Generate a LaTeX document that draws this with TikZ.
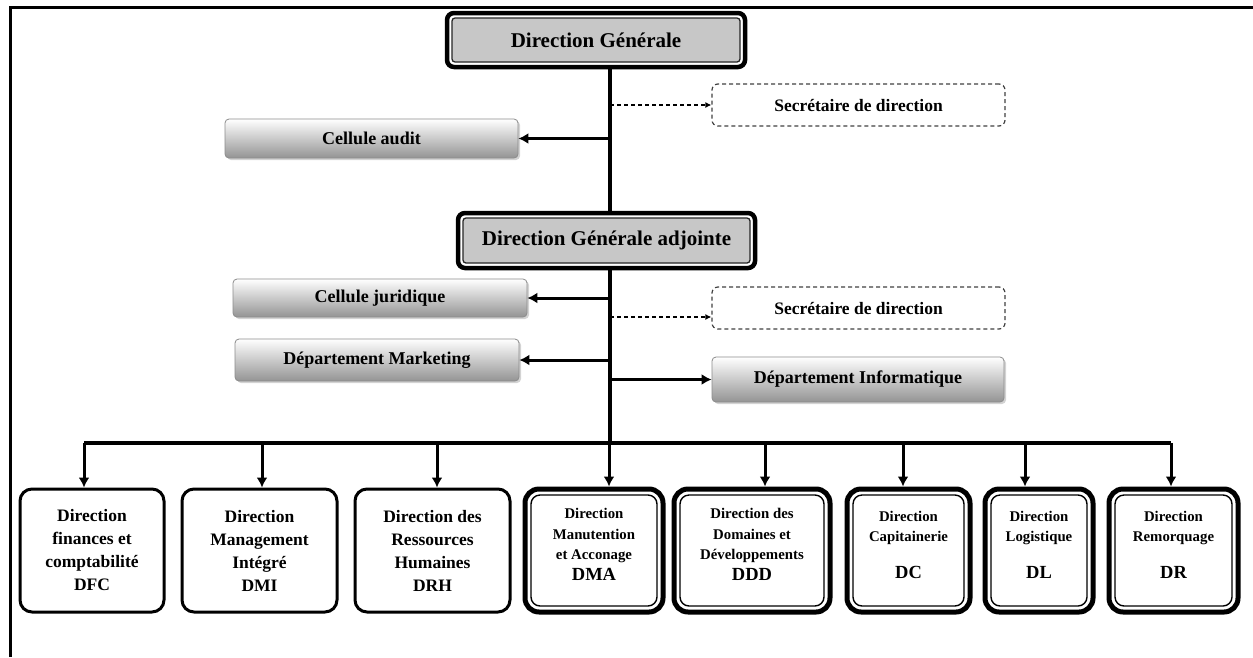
\documentclass[tikz,border=0pt]{standalone}
\usepackage{fontspec}
\setmainfont{Liberation Serif}
\usetikzlibrary{arrows.meta,shadows}

\tikzset{
  dirbox/.style={draw, line width=4.5pt, rounded corners=7pt, fill=white, inner sep=0pt,
    font=\fontsize{21}{24}\selectfont\bfseries,
    path picture={\filldraw[fill=black!22, draw=black!85, line width=1.3pt, rounded corners=3pt]
      ([shift={(5pt,-5pt)}]path picture bounding box.north west) rectangle
      ([shift={(-5pt,5pt)}]path picture bounding box.south east);}},
  sidebox/.style={draw=black!45, line width=0.8pt, rounded corners=4pt, inner sep=0pt,
    top color=white, middle color=black!7, bottom color=black!42,
    drop shadow={shadow xshift=2pt, shadow yshift=-2pt, opacity=0.35},
    font=\fontsize{18}{21}\selectfont\bfseries},
  secbox/.style={draw=black!75, dash pattern=on 4pt off 3pt, line width=1.2pt,
    rounded corners=6pt, inner sep=0pt, font=\fontsize{17.5}{21}\selectfont\bfseries},
  unitbox/.style={draw, line width=3pt, rounded corners=12pt, fill=white, inner sep=0pt,
    align=center, minimum height=123, font=\fontsize{17.5}{23}\selectfont\bfseries},
  unitboxd/.style={draw, line width=5pt, rounded corners=14pt, fill=white, inner sep=0pt,
    align=center, minimum height=123, text depth=12pt, font=\fontsize{14.8}{20.5}\selectfont\bfseries,
    path picture={\draw[line width=1.4pt, rounded corners=9pt]
      ([shift={(6pt,-6pt)}]path picture bounding box.north west) rectangle
      ([shift={(-6pt,6pt)}]path picture bounding box.south east);}},
  arr/.style={-{Latex[length=10pt,width=11pt]}, line width=3pt},
  dasharr/.style={-{Latex[length=6pt,width=6pt]}, line width=1.3pt, dash pattern=on 4pt off 3pt},
  trunk/.style={line width=3.2pt}
}

\newcommand{\code}[1]{{\fontsize{18.5}{20}\selectfont #1}}

\begin{document}
\begin{tikzpicture}[x=1pt,y=-1pt]
        \useasboundingbox (0,0) rectangle (1253,657);
        \draw[line width=3pt] (10,657) -- (10,7) -- (1253,7);

        % Direction
        \node[dirbox, minimum width=298, minimum height=54] (dg) at (596,40) {Direction Générale};
        \node[dirbox, minimum width=297, minimum height=55] (dga) at (606.5,240.5) {Direction Générale adjointe};

        % Cells and departments
        \node[secbox, minimum width=293, minimum height=42] (sec1) at (858.5,105) {Secrétaire de direction};
        \node[sidebox, minimum width=293, minimum height=39] (audit) at (371.5,138.5) {Cellule audit};
        \node[sidebox, minimum width=294, minimum height=38] (jur) at (380,298) {Cellule juridique};
        \node[secbox, minimum width=293, minimum height=42] (sec2) at (858.5,308) {Secrétaire de direction};
        \node[sidebox, minimum width=284, minimum height=42] (mkt) at (377,360) {Département Marketing};
        \node[sidebox, minimum width=292, minimum height=45] (info) at (858,379.5) {Département Informatique};

        % Directions
        \node[unitbox, minimum width=144] (dfc) at (92,550.5) {Direction\\finances et\\comptabilité\\DFC};
        \node[unitbox, minimum width=155] (dmi) at (259.5,550.5) {Direction\\Management\\Intégré\\DMI};
        \node[unitbox, minimum width=155] (drh) at (432.5,550.5) {Direction des\\Ressources\\Humaines\\DRH};
        \node[unitboxd, minimum width=138] (dma) at (594,550.5) {Direction\\Manutention\\et Acconage\\\code{DMA}};
        \node[unitboxd, minimum width=156] (ddd) at (752,550.5) {Direction des\\Domaines et\\Développements\\\code{DDD}};
        \node[unitboxd, minimum width=123] (dc) at (908.5,550.5) {Direction\\Capitainerie\\[16pt]\code{DC}};
        \node[unitboxd, minimum width=108] (dl) at (1039,550.5) {Direction\\Logistique\\[16pt]\code{DL}};
        \node[unitboxd, minimum width=129] (dr) at (1173.5,550.5) {Direction\\Remorquage\\[16pt]\code{DR}};

        % Links
        \coordinate (spine) at (610,0);
        \coordinate (busL) at (84,443);
        \coordinate (busR) at (1171,443);
        \coordinate (s2in) at ([yshift=-9pt]sec2.west);
        \draw[trunk] (spine |- dg.south) -- (spine |- dga.north);
        \draw[trunk] (spine |- dga.south) -- (spine |- busL);
        \draw[trunk] (busL) -- (busR);

        \draw[dasharr] (spine |- sec1.west) -- (sec1.west);
        \draw[arr] (spine |- audit.east) -- (audit.east);
        \draw[arr] (spine |- jur.east) -- (jur.east);
        \draw[dasharr] (spine |- s2in) -- (s2in);
        \draw[arr] (spine |- mkt.east) -- (mkt.east);
        \draw[arr] (spine |- info.west) -- (info.west);

        \foreach \n/\x in {dfc/84, dmi/262, drh/437, dma/609, ddd/765, dc/903, dl/1025, dr/1171}
            \draw[arr] (busL -| \x,0) -- (\n.north -| \x,0);
\end{tikzpicture}
\end{document}
